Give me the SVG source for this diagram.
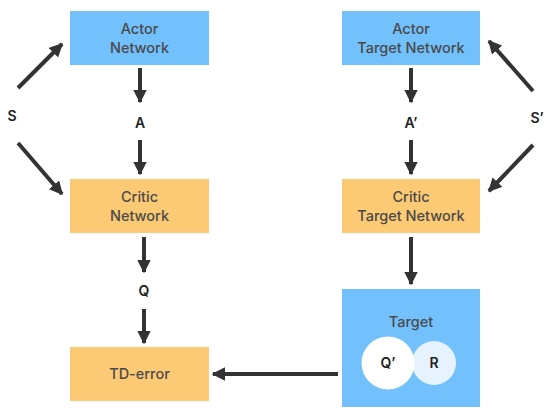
<svg xmlns="http://www.w3.org/2000/svg" width="550" height="418" viewBox="0 0 550 418">
<defs>
<marker id="ah" viewBox="0 0 10 10" refX="9" refY="5" markerWidth="3.4" markerHeight="3.4" orient="auto" markerUnits="strokeWidth">
<path d="M0,0 L10,5 L0,10 z" fill="#333"/>
</marker>
<style>
.blue{fill:#72C0FC}
.orange{fill:#FCC974}
.bt{font-family:"Inter","Liberation Sans",Arial,sans-serif;font-weight:500;font-size:14.5px;fill:#4a4a4a;text-anchor:middle}
.lb{font-family:"Inter","Liberation Sans",Arial,sans-serif;font-weight:600;font-size:14px;fill:#222;text-anchor:middle}
.cn line{stroke:#333;stroke-width:4;marker-end:url(#ah)}
</style>
</defs>
<rect width="550" height="418" fill="#fff"/>
<g id="actor"><rect class="blue" x="70" y="11" width="139" height="54"/><text class="bt" x="139.5" y="34">Actor</text><text class="bt" x="139.5" y="53">Network</text></g>
<g id="actor-target"><rect class="blue" x="342" y="11" width="138" height="54"/><text class="bt" x="411" y="34">Actor</text><text class="bt" x="411" y="53">Target Network</text></g>
<g id="critic"><rect class="orange" x="70" y="179" width="139" height="54"/><text class="bt" x="139.5" y="202">Critic</text><text class="bt" x="139.5" y="221">Network</text></g>
<g id="critic-target"><rect class="orange" x="342" y="179" width="138" height="54"/><text class="bt" x="411" y="202">Critic</text><text class="bt" x="411" y="221">Target Network</text></g>
<g id="td-error"><rect class="orange" x="70" y="347" width="139" height="54"/><text class="bt" x="139.5" y="379">TD-error</text></g>
<g id="target"><rect class="blue" x="342" y="289" width="138" height="118"/><text class="bt" x="411" y="327">Target</text>
<circle cx="434" cy="363" r="22" fill="#E6F2FD"/><circle cx="388" cy="363" r="26.5" fill="#fff"/>
<text class="lb" x="388" y="368">Q’</text><text class="lb" x="434" y="368">R</text></g>
<g id="labels">
<text class="lb" x="12" y="121">S</text>
<text class="lb" x="140" y="128">A</text>
<text class="lb" x="411" y="128">A’</text>
<text class="lb" x="537" y="123">S’</text>
<text class="lb" x="144" y="296">Q</text>
</g>
<g id="connectors" class="cn">
<line x1="140" y1="68" x2="140" y2="102"/>
<line x1="140" y1="140" x2="140" y2="174"/>
<line x1="411" y1="68" x2="411" y2="102"/>
<line x1="411" y1="140" x2="411" y2="174"/>
<line x1="18" y1="88" x2="62" y2="44"/>
<line x1="18" y1="143" x2="62" y2="194"/>
<line x1="533" y1="91" x2="489" y2="41"/>
<line x1="533" y1="145" x2="489" y2="191"/>
<line x1="144" y1="237" x2="144" y2="272"/>
<line x1="144" y1="309" x2="144" y2="343"/>
<line x1="411" y1="237" x2="411" y2="284"/>
<line x1="338" y1="374" x2="213" y2="374"/>
</g>
</svg>
